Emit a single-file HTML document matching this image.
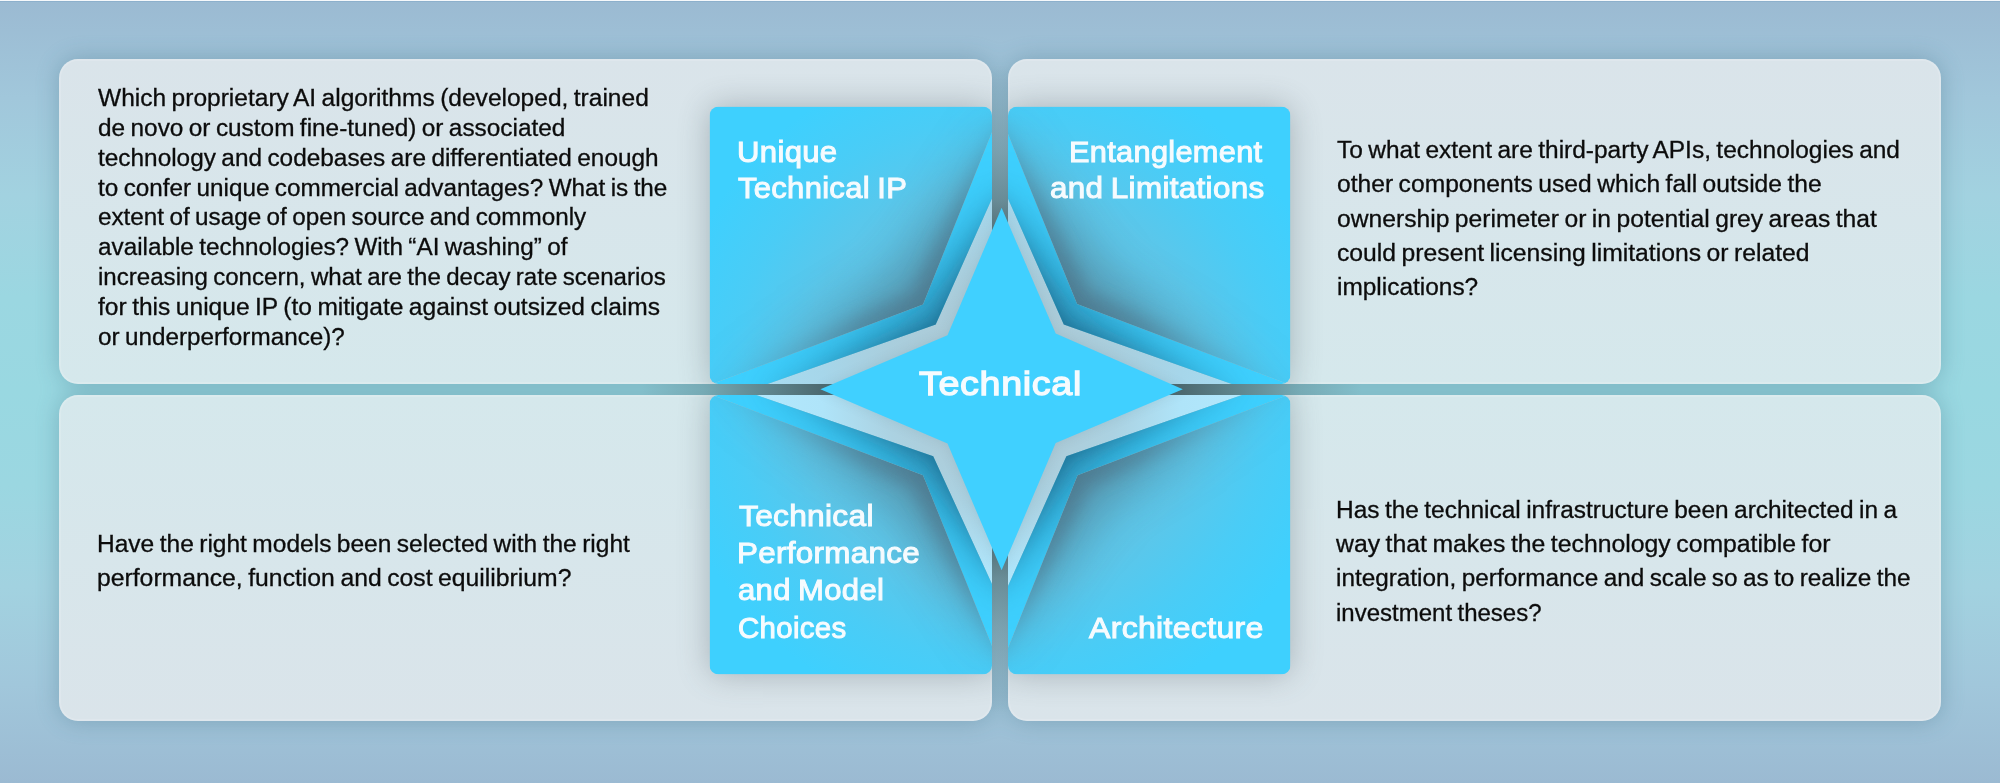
<!DOCTYPE html><html><head><meta charset="utf-8"><title>Technical</title><style>
html,body{margin:0;padding:0}body{width:2000px;height:783px;position:relative;overflow:hidden;background:#9bbad2;font-family:"Liberation Sans",sans-serif}
.t{position:absolute;white-space:pre;line-height:1;transform-origin:0 0;color:#0c0c0c}
.b{font-size:23.5px;word-spacing:-1.3px;-webkit-text-stroke:0.3px #0c0c0c}
.l{color:#f6fbfe;word-spacing:-1.5px;-webkit-text-stroke:0.9px #f6fbfe}
</style></head><body>
<svg width="2000" height="783" viewBox="0 0 2000 783" style="position:absolute;left:0;top:0">
<defs>
<linearGradient id="bg" x1="0" y1="0" x2="0" y2="1">
<stop offset="0" stop-color="#9bbad2"/><stop offset="0.125" stop-color="#a1c7db"/><stop offset="0.25" stop-color="#a2d2e0"/>
<stop offset="0.38" stop-color="#9bd7e1"/><stop offset="0.5" stop-color="#99d8e1"/><stop offset="0.62" stop-color="#9bd7e1"/>
<stop offset="0.75" stop-color="#a2d2e0"/><stop offset="0.875" stop-color="#a1c7db"/><stop offset="1" stop-color="#9bbad2"/></linearGradient>
<linearGradient id="pT" x1="0" y1="0" x2="0" y2="1"><stop offset="0" stop-color="#dae4ea"/><stop offset="1" stop-color="#d5e8ec"/></linearGradient>
<linearGradient id="pB" x1="0" y1="0" x2="0" y2="1"><stop offset="0" stop-color="#d5e8ec"/><stop offset="1" stop-color="#dae4ea"/></linearGradient>
<radialGradient id="gapDark" gradientUnits="userSpaceOnUse" cx="1001.6" cy="389.1" r="360"><stop offset="0" stop-color="#3c5055" stop-opacity="0.8"/><stop offset="0.5" stop-color="#3c5055" stop-opacity="0.77"/><stop offset="0.72" stop-color="#3c5055" stop-opacity="0.4"/><stop offset="0.83" stop-color="#3c5055" stop-opacity="0.18"/><stop offset="1" stop-color="#3c5055" stop-opacity="0"/></radialGradient>
<radialGradient id="lbT" gradientUnits="userSpaceOnUse" cx="1001.6" cy="389.1" r="240"><stop offset="0.28" stop-color="#adcad6"/><stop offset="0.5" stop-color="#a9cedd"/><stop offset="0.75" stop-color="#a6d6ea"/><stop offset="1" stop-color="#a8dcf0"/></radialGradient>
<radialGradient id="lbB" gradientUnits="userSpaceOnUse" cx="1001.6" cy="389.1" r="240"><stop offset="0.28" stop-color="#adcad6"/><stop offset="0.5" stop-color="#abd2e2"/><stop offset="0.75" stop-color="#afe4f9"/><stop offset="1" stop-color="#b2e8fc"/></radialGradient>
<filter id="b6" x="-50%" y="-50%" width="200%" height="200%"><feGaussianBlur stdDeviation="6"/></filter>
<filter id="b8" x="-50%" y="-50%" width="200%" height="200%"><feGaussianBlur stdDeviation="8"/></filter>
<filter id="b12" x="-50%" y="-50%" width="200%" height="200%"><feGaussianBlur stdDeviation="12"/></filter>
<filter id="b16" x="-50%" y="-50%" width="200%" height="200%"><feGaussianBlur stdDeviation="16"/></filter>
<filter id="b24" x="-50%" y="-50%" width="200%" height="200%"><feGaussianBlur stdDeviation="24"/></filter>
<filter id="b40" x="-50%" y="-50%" width="200%" height="200%"><feGaussianBlur stdDeviation="40"/></filter>
<filter id="b70" x="-50%" y="-50%" width="200%" height="200%"><feGaussianBlur stdDeviation="70"/></filter>
<clipPath id="sqTL"><rect x="709.5" y="106.5" width="282.5" height="277.5" rx="9"/></clipPath>
<clipPath id="mainTL"><polygon points="992.0,132.0 992.0,106.5 709.5,106.5 709.5,384.0 709.5,385.0 923.0,304.5"/></clipPath>
<clipPath id="bandTL"><polygon points="709.5,385.0 923.0,304.5 992.0,132.0 992.0,198.4 935.7,324.4 767.6,384.0"/></clipPath>
<clipPath id="lbTL"><polygon points="767.6,384.0 935.7,324.4 992.0,198.4 992.0,384.0"/></clipPath>
<clipPath id="sqTR"><rect x="1008" y="106.5" width="282.5" height="277.5" rx="9"/></clipPath>
<clipPath id="mainTR"><polygon points="1008.0,134.0 1008.0,106.5 1290.5,106.5 1290.5,384.0 1290.5,385.0 1077.1,304.0"/></clipPath>
<clipPath id="bandTR"><polygon points="1290.5,385.0 1077.1,304.0 1008.0,134.0 1008.0,198.8 1063.8,324.4 1231.7,384.0"/></clipPath>
<clipPath id="lbTR"><polygon points="1231.7,384.0 1063.8,324.4 1008.0,198.8 1008.0,384.0"/></clipPath>
<clipPath id="sqBL"><rect x="709.5" y="395" width="282.5" height="279.5" rx="9"/></clipPath>
<clipPath id="mainBL"><polygon points="992.0,646.0 992.0,674.5 709.5,674.5 709.5,395.0 709.5,394.0 923.0,475.2"/></clipPath>
<clipPath id="bandBL"><polygon points="709.5,394.0 923.0,475.2 992.0,646.0 992.0,584.0 933.2,456.3 756.4,395.0"/></clipPath>
<clipPath id="lbBL"><polygon points="756.4,395.0 933.2,456.3 992.0,584.0 992.0,395.0"/></clipPath>
<clipPath id="sqBR"><rect x="1008" y="395" width="282.5" height="279.5" rx="9"/></clipPath>
<clipPath id="mainBR"><polygon points="1008.0,648.0 1008.0,674.5 1290.5,674.5 1290.5,395.0 1290.5,394.0 1077.6,475.2"/></clipPath>
<clipPath id="bandBR"><polygon points="1290.5,394.0 1077.6,475.2 1008.0,648.0 1008.0,586.0 1066.4,456.3 1242.0,395.0"/></clipPath>
<clipPath id="lbBR"><polygon points="1242.0,395.0 1066.4,456.3 1008.0,586.0 1008.0,395.0"/></clipPath>
<radialGradient id="gapDarkV" gradientUnits="userSpaceOnUse" cx="1001.6" cy="389.1" r="360"><stop offset="0" stop-color="#3c5055" stop-opacity="0.8"/><stop offset="0.455" stop-color="#3c5055" stop-opacity="0.66"/><stop offset="0.525" stop-color="#3c5055" stop-opacity="0.46"/><stop offset="0.66" stop-color="#3c5055" stop-opacity="0.25"/><stop offset="0.8" stop-color="#3c5055" stop-opacity="0.09"/><stop offset="0.9" stop-color="#3c5055" stop-opacity="0"/></radialGradient>
<clipPath id="panels"><rect x="59" y="59" width="933" height="325" rx="19"/><rect x="1008" y="59" width="933" height="325" rx="19"/><rect x="59" y="395" width="933" height="326" rx="19"/><rect x="1008" y="395" width="933" height="326" rx="19"/></clipPath>
<radialGradient id="mg" gradientUnits="userSpaceOnUse" cx="1001.6" cy="318.93" r="330" gradientTransform="scale(1 1.22)"><stop offset="0.3" stop-color="#fff" stop-opacity="1"/><stop offset="0.455" stop-color="#fff" stop-opacity="0.8"/><stop offset="0.62" stop-color="#fff" stop-opacity="0.42"/><stop offset="0.79" stop-color="#fff" stop-opacity="0.15"/><stop offset="0.95" stop-color="#fff" stop-opacity="0.03"/></radialGradient>
<mask id="rad" maskUnits="userSpaceOnUse" x="0" y="0" width="2000" height="783"><rect width="2000" height="783" fill="url(#mg)"/></mask>
<radialGradient id="mg2" gradientUnits="userSpaceOnUse" cx="1001.6" cy="389.1" r="300"><stop offset="0.3" stop-color="#fff" stop-opacity="1"/><stop offset="0.47" stop-color="#fff" stop-opacity="0.72"/><stop offset="0.67" stop-color="#fff" stop-opacity="0.34"/><stop offset="0.85" stop-color="#fff" stop-opacity="0.1"/><stop offset="1" stop-color="#fff" stop-opacity="0.03"/></radialGradient>
<mask id="rad2" maskUnits="userSpaceOnUse" x="0" y="0" width="2000" height="783"><rect width="2000" height="783" fill="url(#mg2)"/></mask>
<radialGradient id="milk" gradientUnits="userSpaceOnUse" cx="1001.6" cy="389.1" r="340"><stop offset="0.3" stop-color="#a2b0ba" stop-opacity="0.36"/><stop offset="0.6" stop-color="#a2b0ba" stop-opacity="0.30"/><stop offset="0.8" stop-color="#a2b0ba" stop-opacity="0.12"/><stop offset="1" stop-color="#a2b0ba" stop-opacity="0"/></radialGradient>
</defs>
<rect width="2000" height="783" fill="url(#bg)"/>
<rect x="0" y="0" width="2000" height="1" fill="#ffffff" opacity="0.9"/>
<rect x="0" y="1" width="2000" height="1" fill="#7fa6c6" opacity="0.5"/>
<g filter="url(#b12)" opacity="0.30">
<rect x="59" y="59" width="933" height="325" rx="19" fill="#2a5a70"/>
<rect x="1008" y="59" width="933" height="325" rx="19" fill="#2a5a70"/>
<rect x="59" y="395" width="933" height="326" rx="19" fill="#2a5a70"/>
<rect x="1008" y="395" width="933" height="326" rx="19" fill="#2a5a70"/>
</g>
<rect x="990" y="50" width="20" height="680" fill="url(#gapDarkV)"/>
<rect x="59" y="382" width="1882" height="15" fill="url(#gapDark)"/>
<rect x="59" y="59" width="933" height="325" rx="19" fill="url(#pT)"/>
<rect x="60" y="60" width="931" height="323" rx="18" fill="none" stroke="#ffffff" stroke-opacity="0.14" stroke-width="2"/>
<rect x="1008" y="59" width="933" height="325" rx="19" fill="url(#pT)"/>
<rect x="1009" y="60" width="931" height="323" rx="18" fill="none" stroke="#ffffff" stroke-opacity="0.14" stroke-width="2"/>
<rect x="59" y="395" width="933" height="326" rx="19" fill="url(#pB)"/>
<rect x="60" y="396" width="931" height="324" rx="18" fill="none" stroke="#ffffff" stroke-opacity="0.14" stroke-width="2"/>
<rect x="1008" y="395" width="933" height="326" rx="19" fill="url(#pB)"/>
<rect x="1009" y="396" width="931" height="324" rx="18" fill="none" stroke="#ffffff" stroke-opacity="0.14" stroke-width="2"/>
<g clip-path="url(#panels)"><g filter="url(#b16)" opacity="0.33">
<rect x="709.5" y="106.5" width="282.5" height="277.5" rx="9" fill="#404c52"/>
<rect x="1008" y="106.5" width="282.5" height="277.5" rx="9" fill="#404c52"/>
<rect x="709.5" y="395" width="282.5" height="279.5" rx="9" fill="#404c52"/>
<rect x="1008" y="395" width="282.5" height="279.5" rx="9" fill="#404c52"/>
</g></g>
<g clip-path="url(#sqTL)">
<g clip-path="url(#lbTL)"><rect x="709.5" y="106.5" width="282.5" height="277.5" fill="url(#lbT)"/>
<polygon points="820.4,389.2 947.5,335.2 1001.6,207.8 1055.7,333.6 1182.8,389.2 1055.7,443.0 1001.6,570.3 947.5,443.5" fill="#4a6a78" opacity="0.14" filter="url(#b6)"/></g>
<g clip-path="url(#bandTL)"><rect x="709.5" y="106.5" width="282.5" height="277.5" fill="#3ed0fe"/>
<g mask="url(#rad2)"><polygon points="746.3,389.5 913.0,301.6 1000.0,180.6 1086.0,301.6 1252.5,389.5 1089.5,479.7 1000.0,602.6 909.6,479.7" fill="#134e6c" opacity="0.55" filter="url(#b24)"/>
<polygon points="746.3,389.5 932.5,321.1 1000.0,180.6 1067.0,321.1 1252.5,389.5 1069.7,459.6 1000.0,602.6 929.8,459.6" fill="#134e6c" opacity="0.36" filter="url(#b8)"/></g></g>
<g clip-path="url(#mainTL)"><rect x="709.5" y="106.5" width="282.5" height="277.5" fill="#3ed0fe"/>
<rect x="709.5" y="106.5" width="282.5" height="277.5" fill="url(#milk)"/>
<g mask="url(#rad)"><polygon points="697.6,389.5 892.0,270.5 1000.0,113.2 1107.7,269.8 1302.3,389.5 1108.4,509.5 1000.0,666.8 892.0,509.5" fill="#4a5f6a" opacity="0.48" filter="url(#b24)"/>
<polygon points="697.6,389.5 911.4,291.8 1000.0,113.2 1088.6,291.2 1302.3,389.5 1089.2,488.1 1000.0,666.8 911.4,488.1" fill="#44596a" opacity="0.42" filter="url(#b8)"/></g></g>
</g>
<g clip-path="url(#sqTR)">
<g clip-path="url(#lbTR)"><rect x="1008" y="106.5" width="282.5" height="277.5" fill="url(#lbT)"/>
<polygon points="820.4,389.2 947.5,335.2 1001.6,207.8 1055.7,333.6 1182.8,389.2 1055.7,443.0 1001.6,570.3 947.5,443.5" fill="#4a6a78" opacity="0.14" filter="url(#b6)"/></g>
<g clip-path="url(#bandTR)"><rect x="1008" y="106.5" width="282.5" height="277.5" fill="#3ed0fe"/>
<g mask="url(#rad2)"><polygon points="746.3,389.5 913.0,301.6 1000.0,180.6 1086.0,301.6 1252.5,389.5 1089.5,479.7 1000.0,602.6 909.6,479.7" fill="#134e6c" opacity="0.55" filter="url(#b24)"/>
<polygon points="746.3,389.5 932.5,321.1 1000.0,180.6 1067.0,321.1 1252.5,389.5 1069.7,459.6 1000.0,602.6 929.8,459.6" fill="#134e6c" opacity="0.36" filter="url(#b8)"/></g></g>
<g clip-path="url(#mainTR)"><rect x="1008" y="106.5" width="282.5" height="277.5" fill="#3ed0fe"/>
<rect x="1008" y="106.5" width="282.5" height="277.5" fill="url(#milk)"/>
<g mask="url(#rad)"><polygon points="697.6,389.5 892.0,270.5 1000.0,113.2 1107.7,269.8 1302.3,389.5 1108.4,509.5 1000.0,666.8 892.0,509.5" fill="#4a5f6a" opacity="0.48" filter="url(#b24)"/>
<polygon points="697.6,389.5 911.4,291.8 1000.0,113.2 1088.6,291.2 1302.3,389.5 1089.2,488.1 1000.0,666.8 911.4,488.1" fill="#44596a" opacity="0.42" filter="url(#b8)"/></g></g>
</g>
<g clip-path="url(#sqBL)">
<g clip-path="url(#lbBL)"><rect x="709.5" y="395" width="282.5" height="279.5" fill="url(#lbB)"/>
<polygon points="820.4,389.2 947.5,335.2 1001.6,207.8 1055.7,333.6 1182.8,389.2 1055.7,443.0 1001.6,570.3 947.5,443.5" fill="#4a6a78" opacity="0.14" filter="url(#b6)"/></g>
<g clip-path="url(#bandBL)"><rect x="709.5" y="395" width="282.5" height="279.5" fill="#3ed0fe"/>
<g mask="url(#rad2)"><polygon points="746.3,389.5 913.0,301.6 1000.0,180.6 1086.0,301.6 1252.5,389.5 1089.5,479.7 1000.0,602.6 909.6,479.7" fill="#134e6c" opacity="0.55" filter="url(#b24)"/>
<polygon points="746.3,389.5 932.5,321.1 1000.0,180.6 1067.0,321.1 1252.5,389.5 1069.7,459.6 1000.0,602.6 929.8,459.6" fill="#134e6c" opacity="0.36" filter="url(#b8)"/></g></g>
<g clip-path="url(#mainBL)"><rect x="709.5" y="395" width="282.5" height="279.5" fill="#3ed0fe"/>
<rect x="709.5" y="395" width="282.5" height="279.5" fill="url(#milk)"/>
<g mask="url(#rad)"><polygon points="697.6,389.5 892.0,270.5 1000.0,113.2 1107.7,269.8 1302.3,389.5 1108.4,509.5 1000.0,666.8 892.0,509.5" fill="#4a5f6a" opacity="0.48" filter="url(#b24)"/>
<polygon points="697.6,389.5 911.4,291.8 1000.0,113.2 1088.6,291.2 1302.3,389.5 1089.2,488.1 1000.0,666.8 911.4,488.1" fill="#44596a" opacity="0.42" filter="url(#b8)"/></g></g>
</g>
<g clip-path="url(#sqBR)">
<g clip-path="url(#lbBR)"><rect x="1008" y="395" width="282.5" height="279.5" fill="url(#lbB)"/>
<polygon points="820.4,389.2 947.5,335.2 1001.6,207.8 1055.7,333.6 1182.8,389.2 1055.7,443.0 1001.6,570.3 947.5,443.5" fill="#4a6a78" opacity="0.14" filter="url(#b6)"/></g>
<g clip-path="url(#bandBR)"><rect x="1008" y="395" width="282.5" height="279.5" fill="#3ed0fe"/>
<g mask="url(#rad2)"><polygon points="746.3,389.5 913.0,301.6 1000.0,180.6 1086.0,301.6 1252.5,389.5 1089.5,479.7 1000.0,602.6 909.6,479.7" fill="#134e6c" opacity="0.55" filter="url(#b24)"/>
<polygon points="746.3,389.5 932.5,321.1 1000.0,180.6 1067.0,321.1 1252.5,389.5 1069.7,459.6 1000.0,602.6 929.8,459.6" fill="#134e6c" opacity="0.36" filter="url(#b8)"/></g></g>
<g clip-path="url(#mainBR)"><rect x="1008" y="395" width="282.5" height="279.5" fill="#3ed0fe"/>
<rect x="1008" y="395" width="282.5" height="279.5" fill="url(#milk)"/>
<g mask="url(#rad)"><polygon points="697.6,389.5 892.0,270.5 1000.0,113.2 1107.7,269.8 1302.3,389.5 1108.4,509.5 1000.0,666.8 892.0,509.5" fill="#4a5f6a" opacity="0.48" filter="url(#b24)"/>
<polygon points="697.6,389.5 911.4,291.8 1000.0,113.2 1088.6,291.2 1302.3,389.5 1089.2,488.1 1000.0,666.8 911.4,488.1" fill="#44596a" opacity="0.42" filter="url(#b8)"/></g></g>
</g>
<polygon points="820.4,389.2 947.5,335.2 1001.6,207.8 1055.7,333.6 1182.8,389.2 1055.7,443.0 1001.6,570.3 947.5,443.5" fill="#40d0ff"/>
</svg>
<div class="t b" style="left:98.10px;top:86.81px;transform:scaleX(1.0437)">Which proprietary AI algorithms (developed, trained</div>
<div class="t b" style="left:98.10px;top:116.71px;transform:scaleX(1.0370)">de novo or custom fine-tuned) or associated</div>
<div class="t b" style="left:98.10px;top:146.61px;transform:scaleX(1.0372)">technology and codebases are differentiated enough</div>
<div class="t b" style="left:98.10px;top:176.51px;transform:scaleX(1.0328)">to confer unique commercial advantages? What is the</div>
<div class="t b" style="left:98.10px;top:206.41px;transform:scaleX(1.0322)">extent of usage of open source and commonly</div>
<div class="t b" style="left:98.10px;top:236.31px;transform:scaleX(1.0329)">available technologies? With “AI washing” of</div>
<div class="t b" style="left:98.10px;top:266.21px;transform:scaleX(1.0251)">increasing concern, what are the decay rate scenarios</div>
<div class="t b" style="left:98.10px;top:296.11px;transform:scaleX(1.0451)">for this unique IP (to mitigate against outsized claims</div>
<div class="t b" style="left:98.10px;top:326.01px;transform:scaleX(1.0327)">or underperformance)?</div>
<div class="t b" style="left:1337.40px;top:138.91px;transform:scaleX(1.0409)">To what extent are third-party APIs, technologies and</div>
<div class="t b" style="left:1337.40px;top:173.21px;transform:scaleX(1.0481)">other components used which fall outside the</div>
<div class="t b" style="left:1337.40px;top:207.51px;transform:scaleX(1.0489)">ownership perimeter or in potential grey areas that</div>
<div class="t b" style="left:1337.40px;top:241.81px;transform:scaleX(1.0516)">could present licensing limitations or related</div>
<div class="t b" style="left:1337.40px;top:276.11px;transform:scaleX(1.0395)">implications?</div>
<div class="t b" style="left:96.70px;top:532.91px;transform:scaleX(1.0432)">Have the right models been selected with the right</div>
<div class="t b" style="left:96.70px;top:567.11px;transform:scaleX(1.0526)">performance, function and cost equilibrium?</div>
<div class="t b" style="left:1335.50px;top:498.91px;transform:scaleX(1.0399)">Has the technical infrastructure been architected in a</div>
<div class="t b" style="left:1335.50px;top:533.31px;transform:scaleX(1.0544)">way that makes the technology compatible for</div>
<div class="t b" style="left:1335.50px;top:567.41px;transform:scaleX(1.0349)">integration, performance and scale so as to realize the</div>
<div class="t b" style="left:1335.50px;top:601.51px;transform:scaleX(1.0219)">investment theses?</div>
<div class="t l" style="font-size:29px;-webkit-text-stroke-width:1.0px;letter-spacing:0.3px;left:736.50px;top:137.55px;transform:scaleX(1.0723)">Unique</div>
<div class="t l" style="font-size:29px;-webkit-text-stroke-width:1.0px;letter-spacing:0.3px;left:738.00px;top:174.05px;transform:scaleX(1.0671)">Technical IP</div>
<div class="t l" style="font-size:29px;-webkit-text-stroke-width:1.0px;letter-spacing:0.3px;left:1069.30px;top:137.55px;transform:scaleX(1.0597)">Entanglement</div>
<div class="t l" style="font-size:29px;-webkit-text-stroke-width:1.0px;letter-spacing:0.3px;left:1049.70px;top:174.05px;transform:scaleX(1.0832)">and Limitations</div>
<div class="t l" style="font-size:29px;-webkit-text-stroke-width:1.0px;letter-spacing:0.3px;left:738.60px;top:502.05px;transform:scaleX(1.0904)">Technical</div>
<div class="t l" style="font-size:29px;-webkit-text-stroke-width:1.0px;letter-spacing:0.3px;left:736.60px;top:538.85px;transform:scaleX(1.0810)">Performance</div>
<div class="t l" style="font-size:29px;-webkit-text-stroke-width:1.0px;letter-spacing:0.3px;left:737.60px;top:576.25px;transform:scaleX(1.0703)">and Model</div>
<div class="t l" style="font-size:29px;-webkit-text-stroke-width:1.0px;letter-spacing:0.3px;left:737.60px;top:613.55px;transform:scaleX(1.0149)">Choices</div>
<div class="t l" style="font-size:29px;-webkit-text-stroke-width:1.0px;letter-spacing:0.3px;left:1088.80px;top:613.65px;transform:scaleX(1.1029)">Architecture</div>
<div class="t l" style="font-size:34px;-webkit-text-stroke-width:1.3px;letter-spacing:0.6px;left:918.50px;top:366.22px;transform:scaleX(1.1072)">Technical</div>
</body></html>
